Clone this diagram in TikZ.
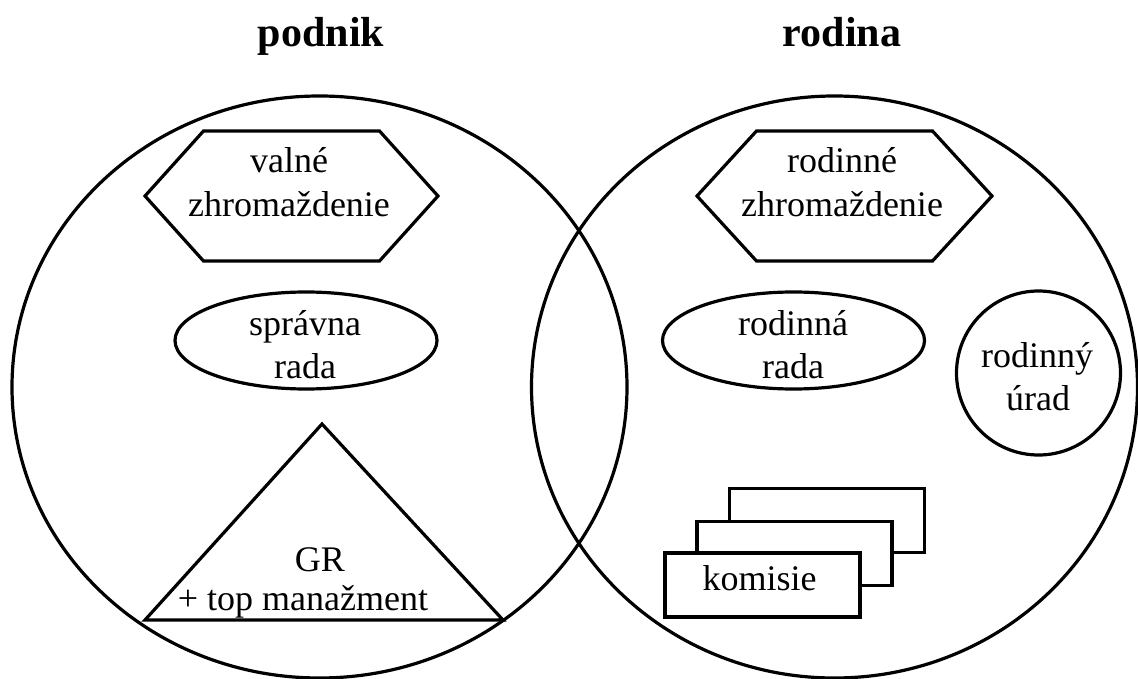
\documentclass[tikz,border=0pt]{standalone}
\usepackage{fontspec}
\setmainfont{Liberation Serif}
\usetikzlibrary{shapes.geometric}
\begin{document}
\begin{tikzpicture}[x=1pt,y=-1pt,line width=3.2pt,
  lbl/.style={anchor=base,inner sep=0pt,font=\fontsize{36}{43}\selectfont},
  ttl/.style={anchor=base,inner sep=0pt,font=\fontsize{42}{50}\selectfont\bfseries},
  venn/.style={ellipse,draw,inner sep=0pt},
  oval/.style={ellipse,draw,inner sep=0pt,minimum width=262pt,minimum height=97pt},
  card/.style={rectangle,draw,fill=white,inner sep=0pt,minimum width=195pt,minimum height=64pt}]
\useasboundingbox (0,0) rectangle (1138,679);
% titles
\node[ttl] (tpodnik) at (321,47) {podnik};
\node[ttl] (trodina) at (842,47) {rodina};
% big circles
\node[venn,minimum width=615pt,minimum height=582pt] (cpodnik) at (319.5,387) {};
\node[venn,minimum width=606pt,minimum height=582pt] (crodina) at (834.5,387) {};
% hexagons
\draw (203.5,131) -- (379.5,131) -- (438,196) -- (379.5,261) -- (203.5,261) -- (145,196) -- cycle;
\draw (756.5,131) -- (932.5,131) -- (992,196) -- (932.5,261) -- (756.5,261) -- (697,196) -- cycle;
\node[lbl] (valne1) at (289,172.5) {valné};
\node[lbl] (valne2) at (289,216.5) {zhromaždenie};
\node[lbl] (rodzh1) at (842,172.5) {rodinné};
\node[lbl] (rodzh2) at (842,216.5) {zhromaždenie};
% ovals
\node[oval] (osprav) at (306,340.5) {};
\node[oval] (orodin) at (793.5,340.5) {};
\node[lbl] (sprav1) at (305,335.5) {správna};
\node[lbl] (sprav2) at (305,378.5) {rada};
\node[lbl] (rodr1) at (793,335.5) {rodinná};
\node[lbl] (rodr2) at (793,378.5) {rada};
% family office circle
\node[circle,draw,inner sep=0pt,minimum size=164pt] (urad) at (1038.5,373) {};
\node[lbl] (urad1) at (1037,367) {rodinný};
\node[lbl] (urad2) at (1038,410) {úrad};
% triangle
\draw (322,424) -- (503,620) -- (145,620) -- cycle;
\node[lbl] (gr1) at (320,571) {GR};
\node[lbl] (gr2) at (303,610) {+ top manažment};
% committees
\node[card] (kom3) at (827,520.5) {};
\node[card] (kom2) at (794.5,553.5) {};
\node[card] (kom1) at (762.5,585) {};
\node[lbl] (komt) at (759.5,590) {komisie};
\end{tikzpicture}
\end{document}
